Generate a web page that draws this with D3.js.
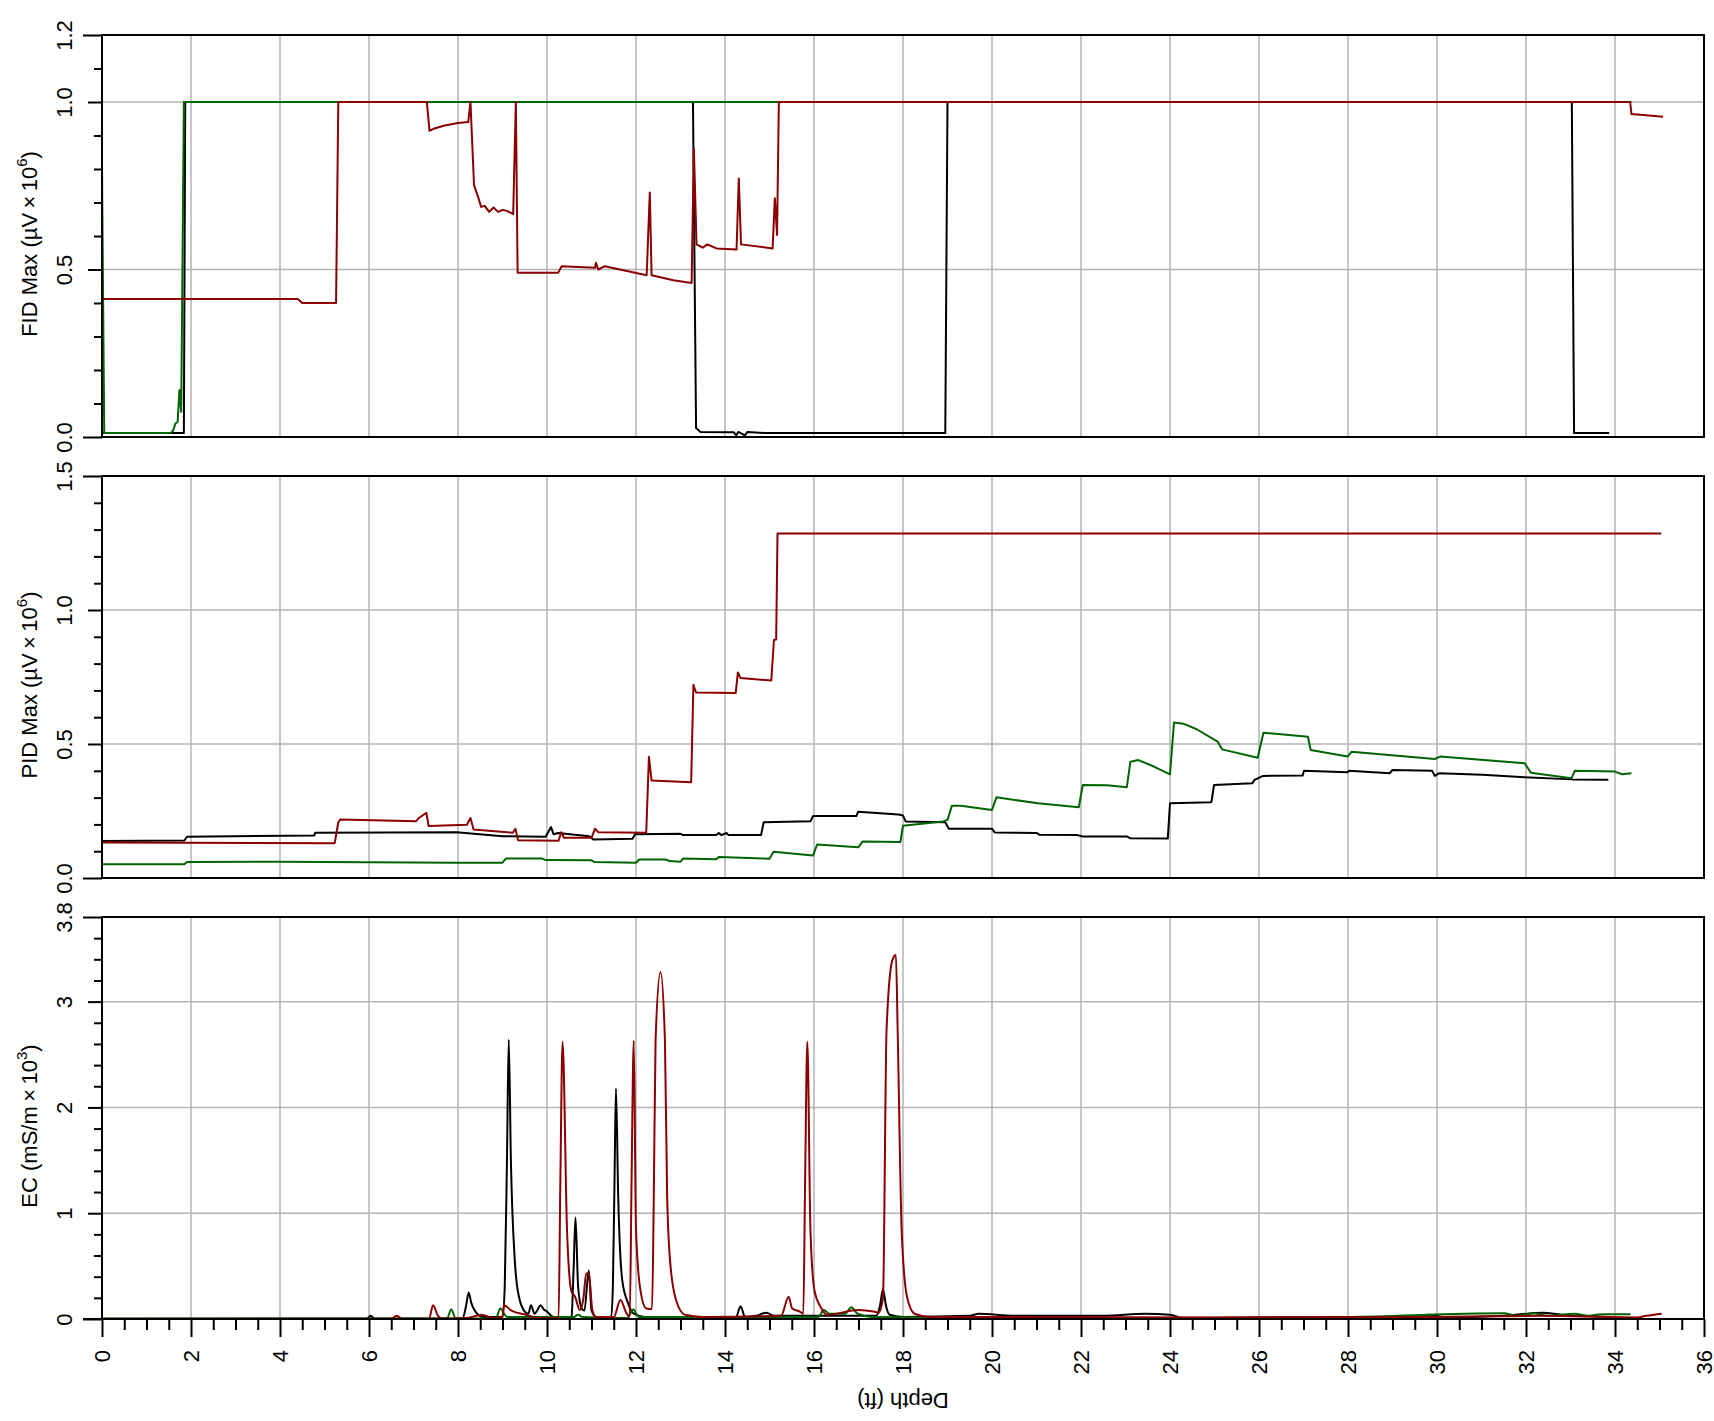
<!DOCTYPE html>
<html><head><meta charset="utf-8">
<script src="https://cdn.jsdelivr.net/npm/d3@7"></script>
<style>body{margin:0;background:#fff} text{font-family:"Liberation Sans",Arial,Helvetica,sans-serif;fill:#000}</style>
</head><body><svg id="chart" width="1714" height="1421"></svg>
<script>
// ---------------- data ----------------
const depthTickValues = [0,2,4,6,8,10,12,14,16,18,20,22,24,26,28,30,32,34,36];
const depthTickLabels = ["0","2","4","6","8","10","12","14","16","18","20","22","24","26","28","30","32","34","36"];
const depthMinorTicks = [0.5,1,1.5,2.5,3,3.5,4.5,5,5.5,6.5,7,7.5,8.5,9,9.5,10.5,11,11.5,12.5,13,13.5,14.5,15,15.5,16.5,17,17.5,18.5,19,19.5,20.5,21,21.5,22.5,23,23.5,24.5,25,25.5,26.5,27,27.5,28.5,29,29.5,30.5,31,31.5,32.5,33,33.5,34.5,35,35.5];
const depthGrid = [2,4,6,8,10,12,14,16,18,20,22,24,26,28,30,32,34];

const fidTickValues = [0, 0.5, 1.0, 1.2];
const fidTickLabels = ["0.0", "0.5", "1.0", "1.2"];
const fidMinorTicks = [0.1,0.2,0.3,0.4,0.6,0.7,0.8,0.9,1.1];
const fidGrid = [0.5, 1.0];

const pidTickValues = [0, 0.5, 1.0, 1.5];
const pidTickLabels = ["0.0", "0.5", "1.0", "1.5"];
const pidMinorTicks = [0.1,0.2,0.3,0.4,0.6,0.7,0.8,0.9,1.1,1.2,1.3,1.4];
const pidGrid = [0.5, 1.0];

const ecTickValues = [0, 1, 2, 3, 3.8];
const ecTickLabels = ["0", "1", "2", "3", "3.8"];
const ecMinorTicks = [0.2,0.4,0.6,0.8,1.2,1.4,1.6,1.8,2.2,2.4,2.6,2.8,3.2,3.4,3.6];
const ecGrid = [1, 2, 3];

// FID Max (µV x 10^6) : [depth ft, value]
const fidBlack = [[0,0.012],[1.84,0.012],[1.87,1.0],[13.28,1.0],[13.35,0.027],[13.45,0.015],[14.2,0.014],[14.25,0.005],[14.3,0.015],[14.45,0.005],[14.5,0.015],[14.9,0.012],[18.95,0.012],[19.0,1.0],[33.03,1.0],[33.08,0.012],[33.87,0.012]];
const fidGreen = [[0,0.80],[0.05,0.012],[1.55,0.012],[1.6,0.02],[1.65,0.04],[1.7,0.045],[1.74,0.14],[1.78,0.075],[1.84,1.0],[34.37,1.0]];
const fidRed = [[0,0.412],[4.4,0.412],[4.5,0.40],[5.26,0.40],[5.31,1.0],[7.3,1.0],[7.36,0.914],[7.45,0.92],[7.7,0.93],[8.0,0.937],[8.23,0.94],[8.28,1.0],[8.36,0.752],[8.45,0.717],[8.52,0.687],[8.6,0.69],[8.7,0.672],[8.8,0.685],[8.9,0.672],[9.0,0.678],[9.1,0.675],[9.24,0.665],[9.30,1.0],[9.34,0.49],[10.25,0.49],[10.33,0.51],[11.08,0.505],[11.1,0.52],[11.15,0.50],[11.3,0.51],[12.24,0.483],[12.31,0.73],[12.35,0.483],[12.84,0.468],[13.25,0.46],[13.30,0.862],[13.36,0.575],[13.5,0.565],[13.6,0.575],[13.81,0.563],[14.26,0.56],[14.31,0.772],[14.36,0.575],[15.07,0.563],[15.12,0.713],[15.17,0.603],[15.21,1.0],[34.34,1.0],[34.37,0.964],[35.08,0.956]];

// PID Max (µV x 10^6)
const pidBlack = [[0,0.138],[1.85,0.14],[1.91,0.154],[4.77,0.159],[4.79,0.169],[7.97,0.171],[9.0,0.156],[9.97,0.154],[10.09,0.19],[10.15,0.163],[10.25,0.168],[10.95,0.156],[11.04,0.144],[11.92,0.146],[11.98,0.163],[13.0,0.165],[13.06,0.16],[13.8,0.16],[13.86,0.168],[13.92,0.16],[14.03,0.168],[14.08,0.16],[14.81,0.16],[14.87,0.208],[15.92,0.212],[15.98,0.231],[16.95,0.231],[16.99,0.247],[17.9,0.237],[18.0,0.233],[18.06,0.211],[18.95,0.208],[19.03,0.184],[20.0,0.184],[20.06,0.17],[21.0,0.168],[21.07,0.161],[21.92,0.16],[22.04,0.155],[23.03,0.155],[23.11,0.148],[23.95,0.147],[24.0,0.279],[24.93,0.283],[24.99,0.347],[25.85,0.354],[25.9,0.366],[26.09,0.381],[26.98,0.382],[27.01,0.4],[27.99,0.395],[28.03,0.4],[28.94,0.391],[29.0,0.403],[29.89,0.4],[29.95,0.381],[30.05,0.391],[31.02,0.385],[31.97,0.376],[33.04,0.368],[33.85,0.367]];
const pidGreen = [[0,0.051],[1.85,0.051],[1.91,0.06],[4.0,0.061],[7.97,0.057],[9.0,0.057],[9.08,0.073],[9.89,0.073],[9.97,0.067],[11.0,0.066],[11.06,0.06],[12.0,0.057],[12.07,0.069],[12.66,0.069],[12.76,0.063],[13.0,0.061],[13.06,0.073],[13.8,0.07],[13.86,0.078],[15.0,0.072],[15.09,0.098],[15.98,0.084],[16.07,0.125],[17.0,0.115],[17.09,0.136],[17.94,0.134],[18.0,0.195],[18.9,0.211],[19.0,0.217],[19.1,0.27],[19.3,0.27],[20.0,0.254],[20.1,0.301],[21.03,0.279],[21.95,0.264],[22.04,0.347],[22.58,0.346],[23.03,0.339],[23.11,0.434],[23.29,0.44],[23.65,0.415],[24.0,0.387],[24.09,0.58],[24.3,0.576],[24.6,0.555],[25.07,0.509],[25.17,0.48],[25.97,0.449],[26.1,0.542],[27.1,0.527],[27.16,0.478],[27.99,0.453],[28.08,0.471],[29.95,0.444],[30.07,0.453],[31.97,0.428],[32.11,0.393],[33.02,0.372],[33.1,0.4],[34.0,0.397],[34.16,0.387],[34.37,0.391]];
const pidRed = [[0,0.132],[5.23,0.13],[5.31,0.208],[5.35,0.218],[7.06,0.212],[7.12,0.224],[7.29,0.243],[7.34,0.194],[8.2,0.199],[8.28,0.224],[8.35,0.181],[9.23,0.169],[9.29,0.184],[9.35,0.141],[10.26,0.139],[10.32,0.171],[10.38,0.15],[11.0,0.15],[11.08,0.184],[11.15,0.171],[12.23,0.169],[12.29,0.452],[12.35,0.364],[13.24,0.357],[13.29,0.721],[13.35,0.692],[14.24,0.69],[14.29,0.767],[14.35,0.746],[15.04,0.737],[15.1,0.888],[15.15,0.89],[15.18,1.285],[35.04,1.285]];

// EC (mS/m x 10^3)
const ecBlack = [[0,0.003],[5.95,0.003],[6.04,0.03],[6.12,0.003],[8.1,0.005],[8.18,0.12],[8.24,0.25],[8.3,0.15],[8.37,0.085],[8.45,0.04],[8.55,0.02],[9.0,0.02],[9.05,0.3],[9.1,1.5],[9.14,2.64],[9.19,1.47],[9.28,0.53],[9.37,0.21],[9.5,0.07],[9.58,0.05],[9.64,0.13],[9.72,0.05],[9.78,0.08],[9.85,0.13],[9.93,0.09],[10.0,0.07],[10.1,0.03],[10.2,0.01],[10.5,0.005],[10.55,0.02],[10.6,0.5],[10.64,0.96],[10.7,0.3],[10.78,0.1],[10.84,0.08],[10.94,0.46],[11.0,0.08],[11.1,0.02],[11.44,0.01],[11.48,0.3],[11.52,1.4],[11.55,2.18],[11.6,1.16],[11.69,0.37],[11.82,0.15],[11.95,0.05],[12.2,0.02],[14.25,0.02],[14.35,0.12],[14.45,0.02],[14.7,0.03],[14.93,0.06],[15.1,0.03],[17.4,0.03],[17.48,0.12],[17.55,0.28],[17.62,0.12],[17.7,0.04],[18.0,0.02],[19.5,0.03],[19.7,0.05],[20.5,0.03],[21.5,0.03],[22.5,0.03],[23.45,0.05],[24.0,0.04],[24.3,0.01],[29.5,0.02],[29.8,0.04],[30.2,0.015],[31.5,0.03],[32.4,0.06],[33.0,0.03],[33.87,0.02]];
const ecGreen = [[0,0.003],[7.75,0.005],[7.85,0.09],[7.95,0.005],[8.85,0.005],[8.95,0.1],[9.1,0.02],[10.6,0.02],[10.7,0.04],[10.8,0.02],[11.8,0.01],[11.94,0.09],[12.06,0.02],[16.1,0.02],[16.22,0.085],[16.35,0.05],[16.7,0.05],[16.84,0.11],[16.98,0.05],[17.3,0.02],[20,0.01],[25,0.01],[28,0.02],[31.5,0.055],[31.8,0.03],[32.15,0.055],[32.5,0.03],[33.1,0.05],[33.4,0.03],[33.7,0.045],[34.35,0.045]];
const ecRed = [[0,0.003],[6.5,0.003],[6.62,0.03],[6.75,0.003],[7.35,0.005],[7.44,0.13],[7.55,0.03],[7.65,0.005],[8.2,0.01],[8.53,0.04],[8.8,0.01],[9.0,0.02],[9.03,0.13],[9.2,0.08],[9.53,0.04],[9.8,0.01],[10.26,0.01],[10.3,1.3],[10.35,2.62],[10.45,0.84],[10.55,0.26],[10.63,0.21],[10.74,0.085],[10.82,0.2],[10.88,0.43],[10.94,0.43],[11.02,0.08],[11.1,0.02],[11.5,0.02],[11.65,0.18],[11.78,0.06],[11.86,0.02],[11.9,1.3],[11.95,2.63],[12.0,0.84],[12.1,0.27],[12.23,0.1],[12.36,0.095],[12.4,1.16],[12.44,2.64],[12.55,3.28],[12.65,2.64],[12.7,1.16],[12.77,0.53],[12.9,0.18],[13.1,0.04],[13.5,0.02],[15.26,0.03],[15.43,0.21],[15.51,0.1],[15.68,0.07],[15.76,0.05],[15.8,1.3],[15.85,2.62],[15.92,0.84],[16.01,0.27],[16.14,0.12],[16.3,0.04],[17.0,0.085],[17.34,0.07],[17.45,0.06],[17.55,0.2],[17.63,2.73],[17.76,3.39],[17.84,3.44],[17.88,2.73],[17.97,0.84],[18.09,0.21],[18.26,0.05],[18.6,0.02],[25,0.015],[30,0.02],[32.3,0.03],[34.5,0.015],[34.7,0.03],[35.05,0.05]];

const seriesColors = {black: "#000000", green: "#006400", red: "#8b0000"};

// ---------------- layout ----------------
const svg = d3.select("#chart");
const plotLeft = 102, plotRight = 1704;
const x = d3.scaleLinear().domain([0, 36]).range([plotLeft, plotRight]);

const panels = [
  {top: 35, bottom: 437, domain: [0, 1.2], ticks: fidTickValues, labels: fidTickLabels, minor: fidMinorTicks, grid: fidGrid,
   title: ["FID Max (µV", "6"], series: [fidBlack, fidGreen, fidRed], smooth: false},
  {top: 476, bottom: 878, domain: [0, 1.5], ticks: pidTickValues, labels: pidTickLabels, minor: pidMinorTicks, grid: pidGrid,
   title: ["PID Max (µV", "6"], series: [pidBlack, pidGreen, pidRed], smooth: false},
  {top: 917, bottom: 1319, domain: [0, 3.8], ticks: ecTickValues, labels: ecTickLabels, minor: ecMinorTicks, grid: ecGrid,
   title: ["EC (mS/m", "3"], series: [ecBlack, ecGreen, ecRed], smooth: true}
];
const colorOrder = [seriesColors.black, seriesColors.green, seriesColors.red];

panels.forEach((p, pi) => {
  const y = d3.scaleLinear().domain(p.domain).range([p.bottom, p.top]);
  const g = svg.append("g");

  // grid
  g.selectAll("line.vg").data(depthGrid).join("line")
    .attr("x1", d => x(d)).attr("x2", d => x(d)).attr("y1", p.top).attr("y2", p.bottom)
    .attr("stroke", "#b3b3b3").attr("stroke-width", 1.5);
  g.selectAll("line.hg").data(p.grid).join("line")
    .attr("x1", plotLeft).attr("x2", plotRight).attr("y1", d => y(d)).attr("y2", d => y(d))
    .attr("stroke", "#b3b3b3").attr("stroke-width", 1.5);

  // series
  const line = d3.line().x(d => x(d[0])).y(d => y(d[1]))
    .curve(p.smooth ? d3.curveMonotoneX : d3.curveLinear);
  p.series.forEach((s, si) => {
    g.append("path").datum(s).attr("d", line)
      .attr("fill", "none").attr("stroke", colorOrder[si]).attr("stroke-width", 2)
      .attr("stroke-linejoin", "round");
  });

  // box
  g.append("rect").attr("x", plotLeft).attr("y", p.top)
    .attr("width", plotRight - plotLeft).attr("height", p.bottom - p.top)
    .attr("fill", "none").attr("stroke", "#000").attr("stroke-width", 2);

  // y axis major
  const ya = svg.append("g").attr("transform", `translate(${plotLeft},0)`)
    .call(d3.axisLeft(y).tickValues(p.ticks).tickSize(14).tickFormat((d, i) => p.labels[i]));
  ya.select(".domain").remove();
  ya.selectAll(".tick line").attr("stroke", "#000").attr("stroke-width", 2)
    .attr("x2", (d, i) => (i === 0 || i === p.ticks.length - 1) ? -19 : -14);
  ya.selectAll(".tick text").attr("x", null).attr("dy", null)
    .attr("text-anchor", "middle").attr("font-size", 22)
    .attr("font-family", '"Liberation Sans", Arial, sans-serif')
    .attr("transform", "translate(-30,0) rotate(-90)");
  // y axis minor
  const ym = svg.append("g").attr("transform", `translate(${plotLeft},0)`)
    .call(d3.axisLeft(y).tickValues(p.minor).tickSize(8).tickFormat(""));
  ym.select(".domain").remove();
  ym.selectAll(".tick line").attr("stroke", "#000").attr("stroke-width", 2);

  // y title
  const cy = (p.top + p.bottom) / 2 + 8;
  const t = svg.append("text").attr("transform", `translate(37,${cy}) rotate(-90)`)
    .attr("text-anchor", "middle").attr("font-size", 22);
  t.append("tspan").text(p.title[0] + "\u2009\u00d7\u200910");
  t.append("tspan").attr("font-size", 15).attr("dy", -10).text(p.title[1]);
  t.append("tspan").attr("dy", 10).text(")");
});

// x axis on bottom panel
const xBase = 1319;
const xa = svg.append("g").attr("transform", `translate(0,${xBase})`)
  .call(d3.axisBottom(x).tickValues(depthTickValues).tickSize(18).tickFormat((d, i) => depthTickLabels[i]));
xa.select(".domain").remove();
xa.selectAll(".tick line").attr("stroke", "#000").attr("stroke-width", 2);
xa.selectAll(".tick text").attr("y", null).attr("dy", null)
  .attr("text-anchor", "end").attr("font-size", 22)
  .attr("font-family", '"Liberation Sans", Arial, sans-serif')
  .attr("transform", "translate(7.5,31) rotate(-90)");
const xm = svg.append("g").attr("transform", `translate(0,${xBase})`)
  .call(d3.axisBottom(x).tickValues(depthMinorTicks).tickSize(11).tickFormat(""));
xm.select(".domain").remove();
xm.selectAll(".tick line").attr("stroke", "#000").attr("stroke-width", 2);
svg.append("line").attr("x1", 83).attr("x2", plotRight).attr("y1", xBase).attr("y2", xBase)
  .attr("stroke", "#000").attr("stroke-width", 2);

// x title (rendered upside down as in the original)
svg.append("text").attr("transform", `translate(${(plotLeft + plotRight) / 2},1393) rotate(180)`)
  .attr("text-anchor", "middle").attr("font-size", 22).text("Depth (ft)");
</script>
</body></html>
